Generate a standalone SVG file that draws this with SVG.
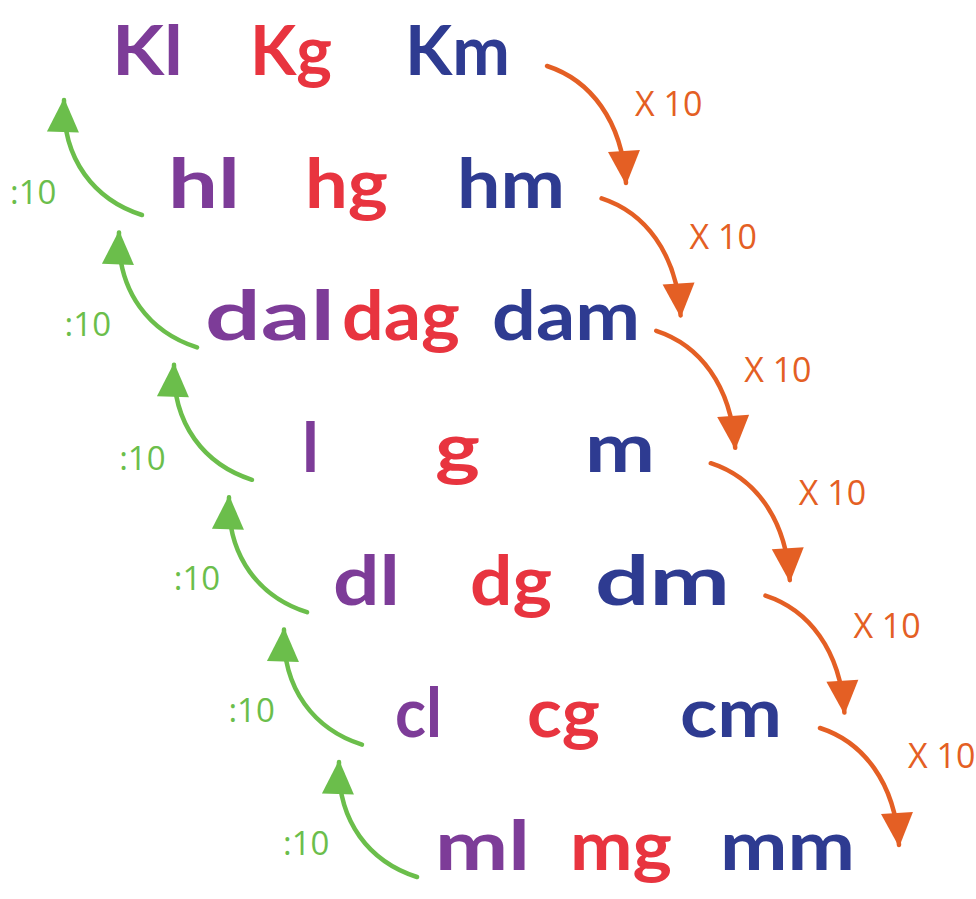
<svg xmlns="http://www.w3.org/2000/svg" width="976" height="899" viewBox="0 0 976 899">
<style>
.w{font-family:"Lato","Open Sans","DejaVu Sans",sans-serif;font-weight:bold;font-size:68px}
.p{fill:#7D3C98}.r{fill:#E8343F}.b{fill:#2E3B91}
.o{fill:none;stroke:#E45F24;stroke-width:4.5;stroke-linecap:round}
.g{fill:none;stroke:#6BBE4B;stroke-width:4.5;stroke-linecap:round}
.lo{font-family:"Open Sans","Liberation Sans",sans-serif;font-size:34px;fill:#E45F24}
.lg{font-family:"Open Sans","Liberation Sans",sans-serif;font-size:33px;fill:#6BBE4B}
</style>
<defs>
<marker id="ao" markerUnits="userSpaceOnUse" markerWidth="34" markerHeight="32" refX="32" refY="16" orient="auto" overflow="visible" viewBox="0 0 34 32"><path d="M0,0 L34,16 L0,32 Z" fill="#E45F24"/></marker>
<marker id="ag" markerUnits="userSpaceOnUse" markerWidth="34" markerHeight="32" refX="32" refY="16" orient="auto" overflow="visible" viewBox="0 0 34 32"><path d="M0,0 L34,16 L0,32 Z" fill="#6BBE4B"/></marker>
</defs>
<rect width="976" height="899" fill="#fff"/>
<g id="connectors">
<path class="o" marker-end="url(#ao)" d="M547,66 C590,80 622,120 626,183"/>
<path class="o" marker-end="url(#ao)" d="M601.6,198.4 C644.6,212.4 676.6,252.4 680.6,315.4"/>
<path class="o" marker-end="url(#ao)" d="M656.2,330.8 C699.2,344.8 731.2,384.8 735.2,447.8"/>
<path class="o" marker-end="url(#ao)" d="M710.8,463.2 C753.8,477.2 785.8,517.2 789.8,580.2"/>
<path class="o" marker-end="url(#ao)" d="M765.4,595.6 C808.4,609.6 840.4,649.6 844.4,712.6"/>
<path class="o" marker-end="url(#ao)" d="M820,728 C863,742 895,782 899,845"/>
<path class="g" marker-end="url(#ag)" d="M142,215 C95,200 62,160 64,100"/>
<path class="g" marker-end="url(#ag)" d="M197,347.4 C150,332.4 117,292.4 119,232.4"/>
<path class="g" marker-end="url(#ag)" d="M252,479.8 C205,464.8 172,424.8 174,364.8"/>
<path class="g" marker-end="url(#ag)" d="M307,612.2 C260,597.2 227,557.2 229,497.2"/>
<path class="g" marker-end="url(#ag)" d="M362,744.6 C315,729.6 282,689.6 284,629.6"/>
<path class="g" marker-end="url(#ag)" d="M417,877 C370,862 337,822 339,762"/>
<text class="lo" x="635" y="116">X 10</text>
<text class="lo" x="689.6" y="249">X 10</text>
<text class="lo" x="744.2" y="382">X 10</text>
<text class="lo" x="798.8" y="505">X 10</text>
<text class="lo" x="853.4" y="637.6">X 10</text>
<text class="lo" x="908" y="768">X 10</text>
<text class="lg" x="10" y="204">:10</text>
<text class="lg" x="64.6" y="336">:10</text>
<text class="lg" x="119.2" y="470">:10</text>
<text class="lg" x="173.8" y="590">:10</text>
<text class="lg" x="228.4" y="722">:10</text>
<text class="lg" x="283" y="855">:10</text>
</g>
<g id="row-km">
<g id="Kl"><text class="w p" x="112" y="75" textLength="71" lengthAdjust="spacingAndGlyphs">Kl</text></g>
<g id="Kg"><text class="w r" x="250" y="75" textLength="82" lengthAdjust="spacingAndGlyphs">Kg</text></g>
<g id="Km"><text class="w b" x="405" y="75" textLength="105" lengthAdjust="spacingAndGlyphs">Km</text></g>
</g>
<g id="row-hm">
<g id="hl"><text class="w p" x="168" y="208" textLength="72" lengthAdjust="spacingAndGlyphs">hl</text></g>
<g id="hg"><text class="w r" x="305" y="208" textLength="83" lengthAdjust="spacingAndGlyphs">hg</text></g>
<g id="hm"><text class="w b" x="457" y="208" textLength="108" lengthAdjust="spacingAndGlyphs">hm</text></g>
</g>
<g id="row-dam">
<g id="dal"><text class="w p" x="205" y="340" textLength="130" lengthAdjust="spacingAndGlyphs">dal</text></g>
<g id="dag"><text class="w r" x="342" y="340" textLength="118" lengthAdjust="spacingAndGlyphs">dag</text></g>
<g id="dam"><text class="w b" x="492" y="340" textLength="148" lengthAdjust="spacingAndGlyphs">dam</text></g>
</g>
<g id="row-m">
<g id="l"><text class="w p" x="302" y="472">l</text></g>
<g id="g"><text class="w r" x="435" y="472" textLength="45" lengthAdjust="spacingAndGlyphs">g</text></g>
<g id="m"><text class="w b" x="585" y="472" textLength="70" lengthAdjust="spacingAndGlyphs">m</text></g>
</g>
<g id="row-dm">
<g id="dl"><text class="w p" x="333" y="605" textLength="67" lengthAdjust="spacingAndGlyphs">dl</text></g>
<g id="dg"><text class="w r" x="470" y="605" textLength="82" lengthAdjust="spacingAndGlyphs">dg</text></g>
<g id="dm"><text class="w b" x="595" y="605" textLength="135" lengthAdjust="spacingAndGlyphs">dm</text></g>
</g>
<g id="row-cm">
<g id="cl"><text class="w p" x="395" y="737" textLength="47" lengthAdjust="spacingAndGlyphs">cl</text></g>
<g id="cg"><text class="w r" x="527" y="737" textLength="73" lengthAdjust="spacingAndGlyphs">cg</text></g>
<g id="cm"><text class="w b" x="680" y="737" textLength="102" lengthAdjust="spacingAndGlyphs">cm</text></g>
</g>
<g id="row-mm">
<g id="ml"><text class="w p" x="435" y="870" textLength="95" lengthAdjust="spacingAndGlyphs">ml</text></g>
<g id="mg"><text class="w r" x="570" y="870" textLength="102" lengthAdjust="spacingAndGlyphs">mg</text></g>
<g id="mm"><text class="w b" x="720" y="870" textLength="135" lengthAdjust="spacingAndGlyphs">mm</text></g>
</g>
</svg>
